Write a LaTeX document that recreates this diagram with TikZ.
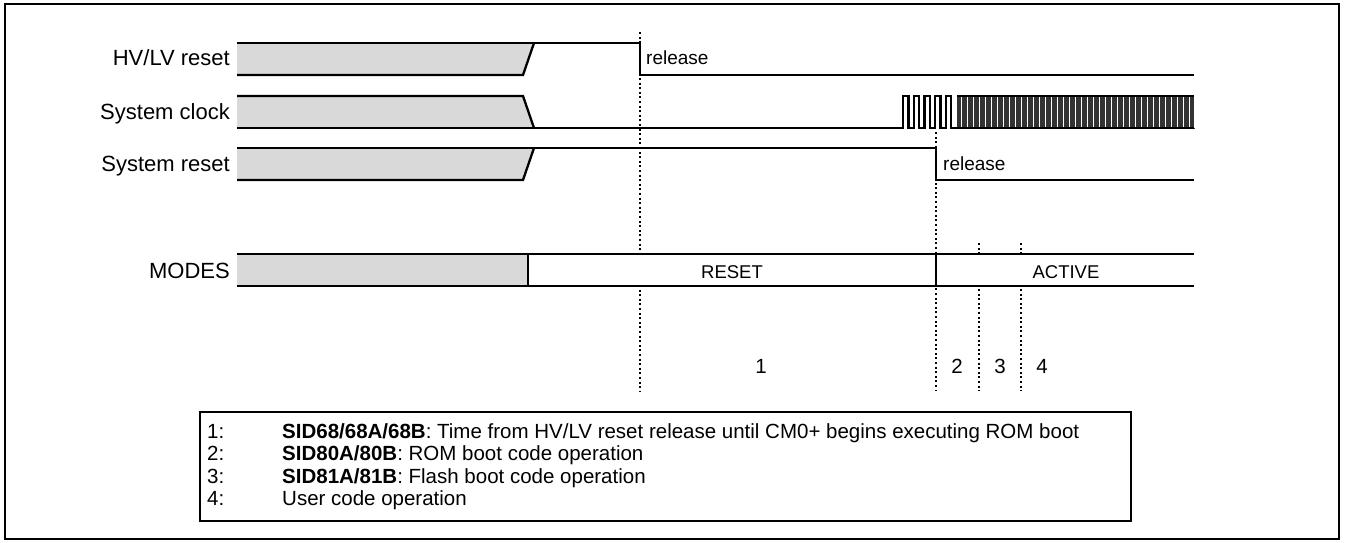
\documentclass[tikz,border=0pt]{standalone}
\usepackage{fontspec}
\setmainfont{Liberation Sans}
\usetikzlibrary{positioning}
\definecolor{undefgray}{HTML}{D9D9D9}
\tikzset{
  frame/.style={draw=black,line width=2pt},
  wave/.style={draw=black,line width=2.3pt,line join=miter},
  fastclk/.style={draw=black!80,line width=0.45pt},
  undef/.style={fill=undefgray},
  marker/.style={draw=black,line width=2pt,dash pattern=on 2pt off 2.6pt},
  siglabel/.style={anchor=base east,inner sep=0pt,font=\fontsize{22}{26}\selectfont},
  evlabel/.style={anchor=base west,inner sep=0pt,font=\fontsize{19}{22}\selectfont},
  modetext/.style={anchor=base,inner sep=0pt,font=\fontsize{18.5}{22}\selectfont},
  phase/.style={anchor=base,inner sep=0pt,font=\fontsize{20.5}{24}\selectfont},
  keybox/.style={draw=black,line width=1.6pt},
  keytext/.style={anchor=base west,inner sep=0pt,font=\fontsize{20.5}{24}\selectfont}
}

\begin{document}
\begin{tikzpicture}[x=1pt,y=-1pt]
  \useasboundingbox (0,0) rectangle (1345,543);
  \draw[frame] (5,4) rectangle (1339,539);

  % undefined states before power-up
  \fill[undef] (237,43) -- (534,43) -- (523,75) -- (237,75) -- cycle;
  \fill[undef] (237,96) -- (523,96) -- (534,128) -- (237,128) -- cycle;
  \fill[undef] (237,148) -- (534,148) -- (523,180) -- (237,180) -- cycle;
  \fill[undef] (237,254) rectangle (528,286);

  % event markers
  \draw[marker] (640,32) -- (640,391);
  \draw[marker] (936,132) -- (936,391);
  \foreach \x in {979,1021} {\draw[marker] (\x,243) -- (\x,391);}

  % signals
  \draw[wave] (237,75) -- (523,75) -- (534,43);
  \draw[wave] (237,43) -- (640,43) -- (640,75) -- (1194,75);
  \draw[wave] (237,96) -- (523,96) -- (534,128);
  \draw[wave] (237,128) -- (903,128)
    \foreach \i in {1,...,5} { -- ++(0,-32) -- ++(5.4,0) -- ++(0,32) -- ++(5.3,0) };
  \draw[fastclk] (957,128)
    \foreach \i in {1,...,99} { -- ++(0,-32) -- ++(1.2,0) -- ++(0,32) -- ++(1.2,0) };
  \draw[wave,line width=1.6pt] (957,96) -- (1194,96) (957,128) -- (1194,128);
  \draw[wave] (237,180) -- (523,180) -- (534,148);
  \draw[wave] (237,148) -- (936,148) -- (936,180) -- (1194,180);

  % modes bar
  \fill[white] (528,254) rectangle (1194,286);
  \draw[wave] (237,254) -- (1194,254) (237,286) -- (1194,286);
  \draw[wave] (528,254) -- (528,286) (936,254) -- (936,286);

  \node[siglabel] (hvlabel) at (230,66) {HV/LV reset};
  \node[siglabel] (clklabel) at (230,119) {System clock};
  \node[siglabel] (srstlabel) at (230,171) {System reset};
  \node[siglabel] (modelabel) at (230,278) {MODES};
  \node[evlabel] (hvrelease) at (646,65) {release};
  \node[evlabel] (srstrelease) at (943,170) {release};
  \node[modetext] (resetmode) at (732,278) {RESET};
  \node[modetext] (activemode) at (1066,278) {ACTIVE};
  \foreach \n/\x in {1/761,2/957,3/1000,4/1042} {\node[phase] (ph\n) at (\x,373) {\n};}

  % legend
  \draw[keybox] (200,412) rectangle (1131,521);
  \node[keytext] (key1) at (207,438.5) {1:};
  \node[keytext] (desc1) at (282,438.5) {\textbf{SID68/68A/68B}: Time from HV/LV reset release until CM0+ begins executing ROM boot};
  \node[keytext] (key2) at (207,460.8) {2:};
  \node[keytext] (desc2) at (282,460.8) {\textbf{SID80A/80B}: ROM boot code operation};
  \node[keytext] (key3) at (207,483.1) {3:};
  \node[keytext] (desc3) at (282,483.1) {\textbf{SID81A/81B}: Flash boot code operation};
  \node[keytext] (key4) at (207,505.4) {4:};
  \node[keytext] (desc4) at (282,505.4) {User code operation};
\end{tikzpicture}
\end{document}
